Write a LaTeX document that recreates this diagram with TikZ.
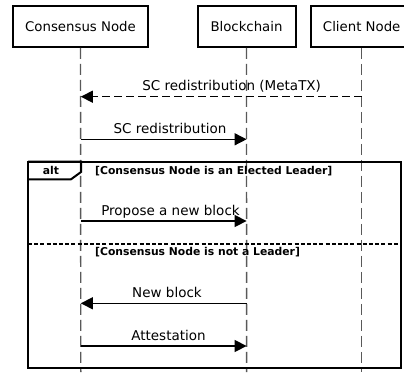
\documentclass[tikz,border=0pt]{standalone}
\usepackage{fontspec}
\setmainfont{DejaVu Sans}
\usetikzlibrary{arrows.meta}
\tikzset{
  actor/.style={draw=black, line width=2pt, fill=white, minimum height=40.7pt, inner sep=0pt, font=\fontsize{13.3}{15}\selectfont},
  lifeline/.style={draw=black!65, line width=1.4pt, dash pattern=on 11pt off 5pt},
  msg/.style={draw=black, line width=1.4pt, -{Triangle[length=12pt,width=12pt]}},
  msgdash/.style={msg, dash pattern=on 8pt off 4pt},
  msglabel/.style={anchor=base, inner sep=0pt, font=\fontsize{13.5}{15}\selectfont},
  guard/.style={anchor=base west, inner sep=0pt, font=\fontsize{10.8}{12}\selectfont\bfseries},
  framebox/.style={draw=black, line width=2pt},
  separator/.style={draw=black, line width=2pt, dash pattern=on 4pt off 2.2pt}
}
\begin{document}
\begin{tikzpicture}[x=1pt,y=-1pt]
\useasboundingbox (0,0) rectangle (404,372);
\clip (0,0) rectangle (404,372);
\fill[white] (0,0) rectangle (404,372);
% actors
\node[actor, minimum width=135pt] (cn) at (80.5,26.4) {Consensus Node};
\node[actor, minimum width=98pt] (bc) at (246.5,26.4) {Blockchain};
\node[actor, minimum width=101pt] (cl) at (361.7,26.4) {Client Node};
% lifeline ends
\coordinate (cnEnd) at (80.8,372);
\coordinate (bcEnd) at (246.6,372);
\coordinate (clEnd) at (361.7,372);
\draw[lifeline] (cn.south) -- (cnEnd);
\draw[lifeline] (bc.south) -- (bcEnd);
\draw[lifeline] (cl.south) -- (clEnd);
% alt frame
\coordinate (fTL) at (28,161.7);
\coordinate (fBR) at (401,368);
\draw[framebox] (fTL) rectangle (fBR);
\draw[framebox] (28,161.7) -- (81,161.7) -- (81,172) -- (71,179.3) -- (28,179.3);
\node[anchor=base, inner sep=0pt, font=\fontsize{10.8}{12}\selectfont\bfseries] (alt) at (51,174) {alt};
\node[guard] (g1) at (95,174.3) {[Consensus Node is an Elected Leader]};
\coordinate (sepL) at (28,244.3);
\coordinate (sepR) at (401,244.3);
\draw[separator] (sepL) -- (sepR);
\node[guard] (g2) at (95,255.8) {[Consensus Node is not a Leader]};
% messages
\coordinate (m1s) at (361.7,96.7);
\coordinate (m1e) at (80.8,96.7);
\draw[msgdash] (m1s) -- (m1e);
\node[msglabel] (l1) at (231.7,90.7) {SC redistribution (MetaTX)};
\coordinate (m2s) at (80.8,139.3);
\coordinate (m2e) at (246.6,139.3);
\draw[msg] (m2s) -- (m2e);
\node[msglabel] (l2) at (170,133) {SC redistribution};
\coordinate (m3s) at (80.8,221);
\coordinate (m3e) at (246.6,221);
\draw[msg] (m3s) -- (m3e);
\node[msglabel] (l3) at (170.5,215.3) {Propose a new block};
\coordinate (m4s) at (246.6,303.3);
\coordinate (m4e) at (80.8,303.3);
\draw[msg] (m4s) -- (m4e);
\node[msglabel] (l4) at (167,297.3) {New block};
\coordinate (m5s) at (80.8,346);
\coordinate (m5e) at (246.6,346);
\draw[msg] (m5s) -- (m5e);
\node[msglabel] (l5) at (168.5,340) {Attestation};
\end{tikzpicture}
\end{document}
